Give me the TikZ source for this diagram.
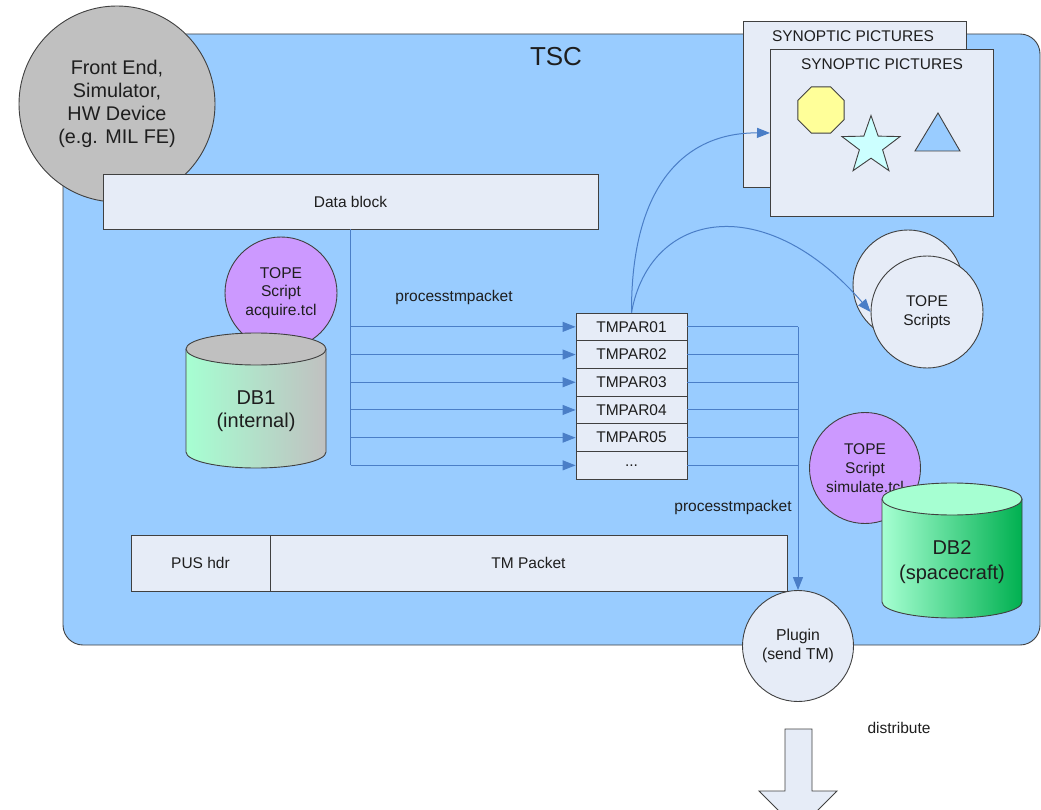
\documentclass[tikz,border=0pt]{standalone}
\usepackage{fontspec}
\setmainfont{Liberation Sans}
\usetikzlibrary{arrows.meta,shapes.geometric,calc}

\definecolor{tscfill}{RGB}{153,204,255}
\definecolor{boxfill}{RGB}{230,236,247}
\definecolor{edge}{RGB}{64,64,64}
\definecolor{connc}{RGB}{74,126,199}
\definecolor{devgray}{RGB}{192,192,192}
\definecolor{scriptpurple}{RGB}{204,153,255}
\definecolor{mint}{RGB}{166,255,210}
\definecolor{dbgreen}{RGB}{0,176,80}
\definecolor{octyellow}{RGB}{255,255,153}
\definecolor{starcyan}{RGB}{204,255,255}
\definecolor{txt}{RGB}{30,30,30}

\begin{document}
\begin{tikzpicture}[x=1pt,y=1pt,
  every node/.style={text=txt},
  box/.style={draw=edge, fill=boxfill, line width=0.9pt, inner sep=0pt,
              font=\fontsize{15.5}{18}\selectfont},
  bubble/.style={circle, draw=edge, line width=0.9pt, inner sep=0pt, align=center},
  conn/.style={draw=connc, line width=1pt},
  arr/.style={conn, -{Triangle[length=13pt,width=10pt]}},
  lbl/.style={font=\fontsize{15.5}{18}\selectfont},
  outline/.style={draw=edge, line width=0.9pt},
  rowbox/.style={box, minimum width=111, minimum height=27.7}
]
\useasboundingbox (0,0) rectangle (1041,-810);
\clip (0,0) rectangle (1041,-810);

% TSC container
\draw[outline, fill=tscfill, rounded corners=20pt] (63,-34) rectangle (1040,-645);
\node[font=\fontsize{26}{30}\selectfont] (tsc) at (556,-57) {TSC};

% synoptic pictures (two stacked sheets)
\node[box, minimum width=223, minimum height=166, anchor=north west] (synb) at (743,-21) {};
\node[lbl, anchor=north] (synbt) at (853,-27) {SYNOPTIC PICTURES};
\node[box, minimum width=223, minimum height=167, anchor=north west] (synf) at (770,-49) {};
\node[lbl, anchor=north] (synft) at (882,-55) {SYNOPTIC PICTURES};
\node[regular polygon, regular polygon sides=8, minimum size=50, inner sep=0pt,
      outline, fill=octyellow] (oct) at (821,-110) {};
\node[star, star points=5, star point ratio=2.5, minimum size=61, inner sep=0pt,
      outline, fill=starcyan] (star) at (871,-146) {};
\draw[outline, fill=tscfill] (938,-113) -- (960,-151) -- (915,-151) -- cycle;

% front end device
\node[bubble, fill=devgray, minimum size=196,
      font=\fontsize{19.8}{23}\selectfont] (fe) at (117,-104)
      {Front End,\\Simulator,\\HW Device\\(e.g. MIL FE)};

% data block
\node[box, minimum width=495, minimum height=55] (data) at (350.5,-201.5) {Data block};

% acquire script and DB1
\node[bubble, fill=scriptpurple, minimum size=112,
      font=\fontsize{15.6}{18.5}\selectfont] (acq) at (281,-293)
      {TOPE\\Script\\acquire.tcl};
\shade[left color=mint, right color=devgray]
  (186,-349) -- (186,-452) arc[start angle=180, end angle=360, x radius=70, y radius=16]
  -- (326,-349) arc[start angle=0, end angle=180, x radius=70, y radius=16] -- cycle;
\draw[outline]
  (186,-349) -- (186,-452) arc[start angle=180, end angle=360, x radius=70, y radius=16]
  -- (326,-349);
\draw[outline, fill=devgray] (256,-349) ellipse[x radius=70, y radius=16];
\node[align=center, font=\fontsize{20}{23}\selectfont] (db1) at (256,-411) {DB1\\(internal)};

% TOPE scripts pool
\node[bubble, fill=boxfill, minimum size=110] (tsb) at (908,-285) {};
\node[bubble, fill=boxfill, minimum size=112,
      font=\fontsize{15.5}{19}\selectfont] (tsf) at (927,-312) {TOPE\\Scripts};

% simulate script and DB2
\node[bubble, fill=scriptpurple, minimum size=111,
      font=\fontsize{15.5}{19}\selectfont] (sim) at (865,-468)
      {TOPE\\Script\\simulate.tcl};
\shade[left color=mint, right color=dbgreen]
  (882,-499) -- (882,-602) arc[start angle=180, end angle=360, x radius=70, y radius=16]
  -- (1022,-499) arc[start angle=0, end angle=180, x radius=70, y radius=16] -- cycle;
\draw[outline]
  (882,-499) -- (882,-602) arc[start angle=180, end angle=360, x radius=70, y radius=16]
  -- (1022,-499);
\draw[outline, fill=mint] (952,-499) ellipse[x radius=70, y radius=16];
\node[align=center, font=\fontsize{20}{25}\selectfont] (db2) at (952,-562) {DB2\\(spacecraft)};

% parameter table
\node[rowbox] (r1) at (631.5,-326.85) {TMPAR01};
\node[rowbox] (r2) at (631.5,-354.55) {TMPAR02};
\node[rowbox] (r3) at (631.5,-382.25) {TMPAR03};
\node[rowbox] (r4) at (631.5,-409.95) {TMPAR04};
\node[rowbox] (r5) at (631.5,-437.65) {TMPAR05};
\node[rowbox] (r6) at (631.5,-465.35) {...};

% TM packet
\node[box, minimum width=139, minimum height=56] (pus) at (200.5,-563) {PUS hdr};
\node[box, minimum width=517, minimum height=56] (tm) at (528.5,-563) {TM Packet};

% plugin
\node[bubble, fill=boxfill, minimum size=111,
      font=\fontsize{15.8}{19}\selectfont] (plugin) at (798,-646) {Plugin\\(send TM)};

% data block fan-out into parameters
\draw[conn] (data.south) -- (data.south |- r6.west);
\foreach \i in {1,2,3,4,5,6}
  \draw[arr] (data.south |- r\i.west) -- (r\i.west);
\node[lbl] (pt1) at (454,-297) {processtmpacket};

% parameters collected towards the plugin
\foreach \i in {1,2,3,4,5,6}
  \draw[conn] (r\i.east) -- (r\i.east -| plugin.north);
\draw[arr] (r1.east -| plugin.north) -- (plugin.north);
\node[lbl] (pt2) at (733,-507) {processtmpacket};

% parameter updates to displays and scripts
\draw[arr] (r1.north) .. controls (631,-185) and (685,-132.5) .. (synf.west);
\draw[arr] (r1.north) .. controls (650,-210) and (765,-190) .. (tsf.west);

% distribution
\node[lbl] (dist) at (899,-728) {distribute};
\draw[outline, fill=boxfill] (785,-729) -- (812,-729) -- (812,-791) -- (837,-791)
  -- (798,-830) -- (759,-791) -- (785,-791) -- cycle;
\end{tikzpicture}
\end{document}
